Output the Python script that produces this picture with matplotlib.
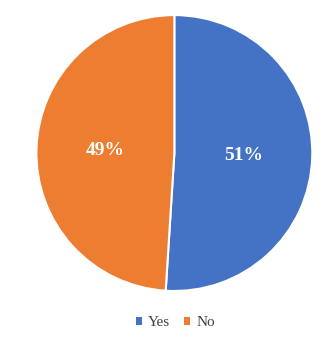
import matplotlib
matplotlib.use('Agg')
import matplotlib.pyplot as plt
from matplotlib.patches import Patch

labels = ['Yes', 'No']
values = [51, 49]
colors = ['#4472C4', '#ED7D31']

fig = plt.figure(figsize=(3.34, 3.49), dpi=100)
fig.patch.set_facecolor('white')

# pie area in figure fractions
ax = fig.add_axes([0.109, 0.166, 0.826, 0.791])
wedges, texts = ax.pie(values, colors=colors, startangle=90, counterclock=False,
                       labels=[f'{v}%' for v in values], labeldistance=0.5,
                       wedgeprops=dict(edgecolor='white', linewidth=1.5))
for t in texts:
    t.set_color('white')
    t.set_fontsize(14)
    t.set_fontweight('bold')
    t.set_family('Liberation Serif')
    t.set_ha('center')
    t.set_va('center')
ax.set_xlim(-1, 1)
ax.set_ylim(-1, 1)
ax.set_aspect('equal')
ax.axis('off')

handles = [Patch(facecolor=c, edgecolor='none') for c in colors]
fig.legend(handles, labels, loc='center', bbox_to_anchor=(0.525, 0.075), ncol=2,
           frameon=False, handlelength=0.4, handleheight=0.4, handletextpad=0.4,
           columnspacing=0.9, prop={'family': 'Liberation Serif', 'size': 11},
           labelcolor='#404040')

fig.savefig('out.png', dpi=100, facecolor='white')
